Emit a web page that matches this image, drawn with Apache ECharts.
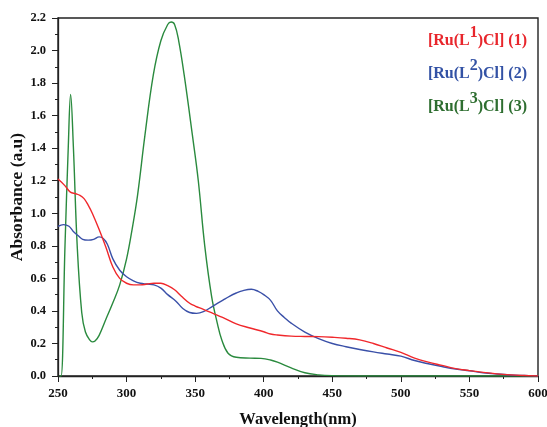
<!DOCTYPE html>
<html><head><meta charset="utf-8">
<script src="https://cdn.jsdelivr.net/npm/echarts@6/dist/echarts.min.js"></script>
<style>html,body{margin:0;padding:0;background:#fff}#c{width:547px;height:427px}</style>
</head><body><div id="c"></div>
<script>
const xTicks = [250, 300, 350, 400, 450, 500, 550, 600];
const yTicks = [0.0, 0.2, 0.4, 0.6, 0.8, 1.0, 1.2, 1.4, 1.6, 1.8, 2.0, 2.2];
const seriesNames = ['[Ru(L1)Cl] (1)', '[Ru(L2)Cl] (2)', '[Ru(L3)Cl] (3)'];

const wl1 = [250,255,259,263,266,269,272,275,280,285,290,295,300,305,310,315,320,325,330,335,340,346,350,356,363,370,380,390,400,405,410,420,430,440,450,460,470,480,490,500,510,520,530,540,550,560,570,580,590,600];
const abs1 = [1.21,1.17,1.13,1.12,1.11,1.09,1.05,1.0,0.9,0.79,0.67,0.6,0.57,0.56,0.56,0.565,0.57,0.57,0.555,0.53,0.49,0.447,0.43,0.41,0.385,0.36,0.32,0.295,0.272,0.258,0.252,0.245,0.243,0.242,0.238,0.232,0.222,0.2,0.172,0.145,0.11,0.085,0.065,0.045,0.033,0.022,0.013,0.007,0.003,0.0];

const wl2 = [250,254,258,261,265,268,272,276,280,283,286,290,295,300,305,310,315,320,325,330,336,341,346,351,356,363,370,375,380,385,391,396,400,405,410,415,420,430,440,450,460,470,480,490,500,510,520,530,540,550,560,570,580,590,600];
const abs2 = [0.92,0.93,0.92,0.89,0.86,0.84,0.835,0.84,0.855,0.845,0.81,0.72,0.65,0.61,0.585,0.57,0.565,0.56,0.54,0.5,0.46,0.415,0.39,0.385,0.395,0.43,0.465,0.49,0.51,0.525,0.533,0.52,0.5,0.465,0.4,0.36,0.325,0.27,0.23,0.2,0.18,0.163,0.148,0.135,0.122,0.095,0.075,0.058,0.043,0.032,0.02,0.012,0.006,0.003,0.0];

const wl3 = [251,252.2,255.1,257.5,259.2,261.2,264,267.3,270,273.3,275,277,280,285,290,295,300,304,308,313.4,319.5,325,330,332.5,335,338,342,348,352.3,357,362,366,369.5,374,380,390,398,405,410,420,430,440,450,470,500,550,600];
const abs3 = [0.0,0.0,0.8,1.41,1.73,1.41,0.8,0.39,0.27,0.22,0.21,0.215,0.25,0.35,0.45,0.56,0.72,0.9,1.11,1.48,1.85,2.06,2.16,2.175,2.16,2.06,1.85,1.48,1.2,0.8,0.49,0.33,0.22,0.14,0.115,0.11,0.108,0.098,0.085,0.05,0.02,0.007,0.002,0.0,0.0,0.0,0.0];

const lineColors = ['#f0282c', '#3a50a8', '#2a8a3e'];
const textColors = ['#e8262c', '#3352a5', '#2e6e30'];

function pairs(xs, ys) { return xs.map((x, i) => [x, ys[i]]); }
const dataSets = [pairs(wl1, abs1), pairs(wl2, abs2), pairs(wl3, abs3)];

const font = 'Liberation Serif';
const chart = echarts.init(document.getElementById('c'));
chart.setOption({
  animation: false,
  backgroundColor: '#fff',
  grid: { left: 58, right: 9, top: 18, bottom: 51, show: true, borderColor: '#222', borderWidth: 1.4,
    containLabel: false, outerBoundsMode: 'none' },
  xAxis: {
    type: 'value', min: xTicks[0], max: xTicks[xTicks.length - 1], interval: 50,
    name: 'Wavelength(nm)', nameLocation: 'middle', nameGap: 35, nameMoveOverlap: false,
    nameTextStyle: { fontFamily: font, fontWeight: 'bold', fontSize: 16.5, color: '#111' },
    axisLine: { lineStyle: { color: '#222', width: 1.3 } },
    axisTick: { inside: false, length: 6, lineStyle: { color: '#222', width: 1 } },
    minorTick: { show: true, splitNumber: 2, length: 3, lineStyle: { color: '#222', width: 1 } },
    splitLine: { show: false },
    axisLabel: { fontFamily: font, fontWeight: 'bold', fontSize: 13, color: '#111', margin: 11 }
  },
  yAxis: {
    type: 'value', min: yTicks[0], max: yTicks[yTicks.length - 1], interval: 0.2,
    name: 'Absorbance (a.u)', nameLocation: 'middle', nameGap: 32, nameMoveOverlap: false,
    nameTextStyle: { fontFamily: font, fontWeight: 'bold', fontSize: 17.5, color: '#111' },
    axisLine: { show: true, lineStyle: { color: '#222', width: 1.3 } },
    axisTick: { show: true, inside: false, length: 6, lineStyle: { color: '#222', width: 1 } },
    minorTick: { show: true, splitNumber: 2, length: 3, lineStyle: { color: '#222', width: 1 } },
    splitLine: { show: false },
    axisLabel: { fontFamily: font, fontWeight: 'bold', fontSize: 12.5, color: '#111', margin: 12,
      formatter: v => v.toFixed(1) }
  },
  legend: {
    orient: 'vertical', right: 15, top: 20, itemGap: 9, icon: 'none', itemWidth: 0, itemHeight: 0,
    selectedMode: false,
    data: seriesNames.map((n, i) => ({ name: n, textStyle: { color: textColors[i] } })),
    formatter: function (name) {
      const m = name.match(/^\[Ru\(L(\d)\)Cl\] (\(\d\))$/);
      return '{b|[Ru(L}{s|' + m[1] + '}{b|)Cl] ' + m[2] + '}';
    },
    textStyle: {
      fontFamily: font, fontWeight: 'bold', fontSize: 16,
      rich: {
        b: { fontFamily: font, fontWeight: 'bold', fontSize: 16, lineHeight: 24, verticalAlign: 'bottom' },
        s: { fontFamily: font, fontWeight: 'bold', fontSize: 16, lineHeight: 12, verticalAlign: 'top' }
      }
    }
  },
  series: dataSets.map((d, i) => ({
    name: seriesNames[i], type: 'line', data: d, smooth: 0.4, showSymbol: false, symbol: 'none',
    lineStyle: { color: lineColors[i], width: 1.4 }, itemStyle: { color: lineColors[i] }, z: 3 - i
  }))
});
</script></body></html>
